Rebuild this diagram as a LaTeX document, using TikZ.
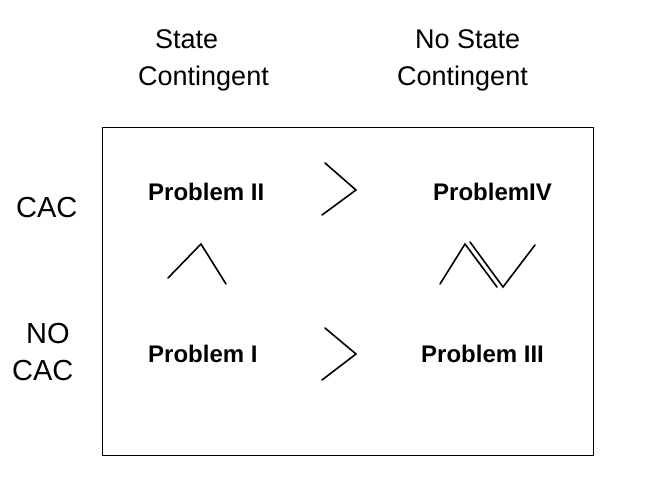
\documentclass[tikz,border=0pt]{standalone}
\usepackage{fontspec}
\setmainfont{Liberation Sans}
\begin{document}
\begin{tikzpicture}[x=1pt,y=-1pt,
  lbl/.style={inner sep=0pt, anchor=base west, font=\fontsize{27}{32}\selectfont},
  side/.style={inner sep=0pt, anchor=base west, font=\fontsize{29}{34}\selectfont},
  prob/.style={inner sep=0pt, anchor=base west, font=\fontsize{24}{28}\selectfont\bfseries},
  rel/.style={line width=1.6pt, line join=miter, line cap=round}]
\useasboundingbox (0,0) rectangle (651,493);
\node[draw, line width=1.3pt, minimum width=491pt, minimum height=328pt, inner sep=0pt, anchor=north west] (box) at (102,127) {};
\node[lbl] (s1) at (155,48) {State};
\node[lbl] (s2) at (138,85) {Contingent};
\node[lbl] (n1) at (415,48) {No State};
\node[lbl] (n2) at (397,85) {Contingent};
\node[side] (cac) at (16,217) {CAC};
\node[side] (no) at (26,343) {NO};
\node[side] (cac2) at (12,380) {CAC};
\node[prob] (p2) at (148,200) {Problem II};
\node[prob] (p4) at (433,200) {ProblemIV};
\node[prob] (p1) at (148,362) {Problem I};
\node[prob] (p3) at (421,362) {Problem III};
\coordinate (g1a) at (325,163); \coordinate (g1b) at (356,190); \coordinate (g1c) at (322,215);
\coordinate (g2a) at (325,328); \coordinate (g2b) at (356,354); \coordinate (g2c) at (322,380);
\draw[rel] (g1a) -- (g1b) -- (g1c);
\draw[rel] (g2a) -- (g2b) -- (g2c);
\coordinate (w1) at (168,278); \coordinate (w2) at (201,244); \coordinate (w3) at (226,284);
\draw[rel] (w1) -- (w2) -- (w3);
\coordinate (d1) at (440,284); \coordinate (d2) at (465,244); \coordinate (d3) at (497,287);
\coordinate (e1) at (470,242); \coordinate (e2) at (503,287); \coordinate (e3) at (535,245);
\draw[rel] (d1) -- (d2) -- (d3);
\draw[rel] (e1) -- (e2) -- (e3);
\end{tikzpicture}
\end{document}
